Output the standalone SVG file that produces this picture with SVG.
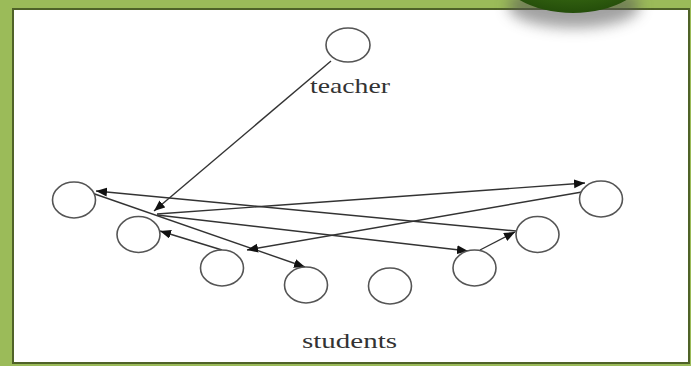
<svg xmlns="http://www.w3.org/2000/svg" width="691" height="366" viewBox="0 0 691 366">
  <style>
    .node ellipse { fill: #ffffff; stroke: #555555; stroke-width: 1.6; }
    .lbl { font-family: "Liberation Serif", "DejaVu Serif", serif; font-size: 22px; fill: #333333; }
    #connectors line { stroke: #333333; stroke-width: 1.4; fill: none; }
  </style>
  <defs>
    <marker id="arr" markerUnits="userSpaceOnUse" markerWidth="12" markerHeight="10" refX="11" refY="4.5" orient="auto">
      <path d="M0,0 L11,4.5 L0,9 z" fill="#111111"/>
    </marker>
    <radialGradient id="blob" cx="0.5" cy="0.3" r="0.7">
      <stop offset="0" stop-color="#5a9a22"/>
      <stop offset="1" stop-color="#244d0a"/>
    </radialGradient>
    <filter id="blur" x="-30%" y="-50%" width="160%" height="200%">
      <feGaussianBlur stdDeviation="7"/>
    </filter>
  </defs>

  <!-- background -->
  <rect x="0" y="0" width="691" height="366" fill="#9bbb59"/>
  <rect x="13" y="9" width="676" height="354" fill="#ffffff" stroke="#4f6228" stroke-width="2"/>

  <!-- decorative green blob with shadow -->
  <ellipse cx="574" cy="6" rx="66" ry="22" fill="#555555" opacity="0.55" filter="url(#blur)"/>
  <ellipse cx="573" cy="-32" rx="76" ry="45" fill="url(#blob)"/>

  <!-- connectors -->
  <g id="connectors">
    <line x1="331" y1="61" x2="154" y2="211" marker-end="url(#arr)"/>
    <line x1="89" y1="192" x2="305" y2="267" marker-end="url(#arr)"/>
    <line x1="516" y1="231" x2="96" y2="191" marker-end="url(#arr)"/>
    <line x1="157" y1="214" x2="585" y2="183" marker-end="url(#arr)"/>
    <line x1="157" y1="215" x2="468" y2="251" marker-end="url(#arr)"/>
    <line x1="582" y1="192" x2="247" y2="250" marker-end="url(#arr)"/>
    <line x1="222" y1="250" x2="160" y2="231" marker-end="url(#arr)"/>
    <line x1="480" y1="250" x2="515" y2="232" marker-end="url(#arr)"/>
  </g>

  <!-- nodes -->
  <g id="teacher" class="node">
    <ellipse cx="348" cy="45" rx="22" ry="17"/>
    <text class="lbl" x="310" y="93" textLength="80" lengthAdjust="spacingAndGlyphs">teacher</text>
  </g>
  <g id="s1" class="node"><ellipse cx="74" cy="200" rx="21.5" ry="18"/></g>
  <g id="s2" class="node"><ellipse cx="138.5" cy="234.5" rx="21.5" ry="18"/></g>
  <g id="s3" class="node"><ellipse cx="222" cy="268" rx="21.5" ry="18"/></g>
  <g id="s4" class="node"><ellipse cx="306" cy="285" rx="21.5" ry="18"/></g>
  <g id="s5" class="node"><ellipse cx="390" cy="286" rx="21.5" ry="18"/></g>
  <g id="s6" class="node"><ellipse cx="474.5" cy="268" rx="21.5" ry="18"/></g>
  <g id="s7" class="node"><ellipse cx="537.5" cy="234.5" rx="21.5" ry="18"/></g>
  <g id="s8" class="node"><ellipse cx="601" cy="199" rx="21.5" ry="18"/></g>
  <g id="students">
    <text class="lbl" x="302" y="348" textLength="95" lengthAdjust="spacingAndGlyphs">students</text>
  </g>
</svg>
